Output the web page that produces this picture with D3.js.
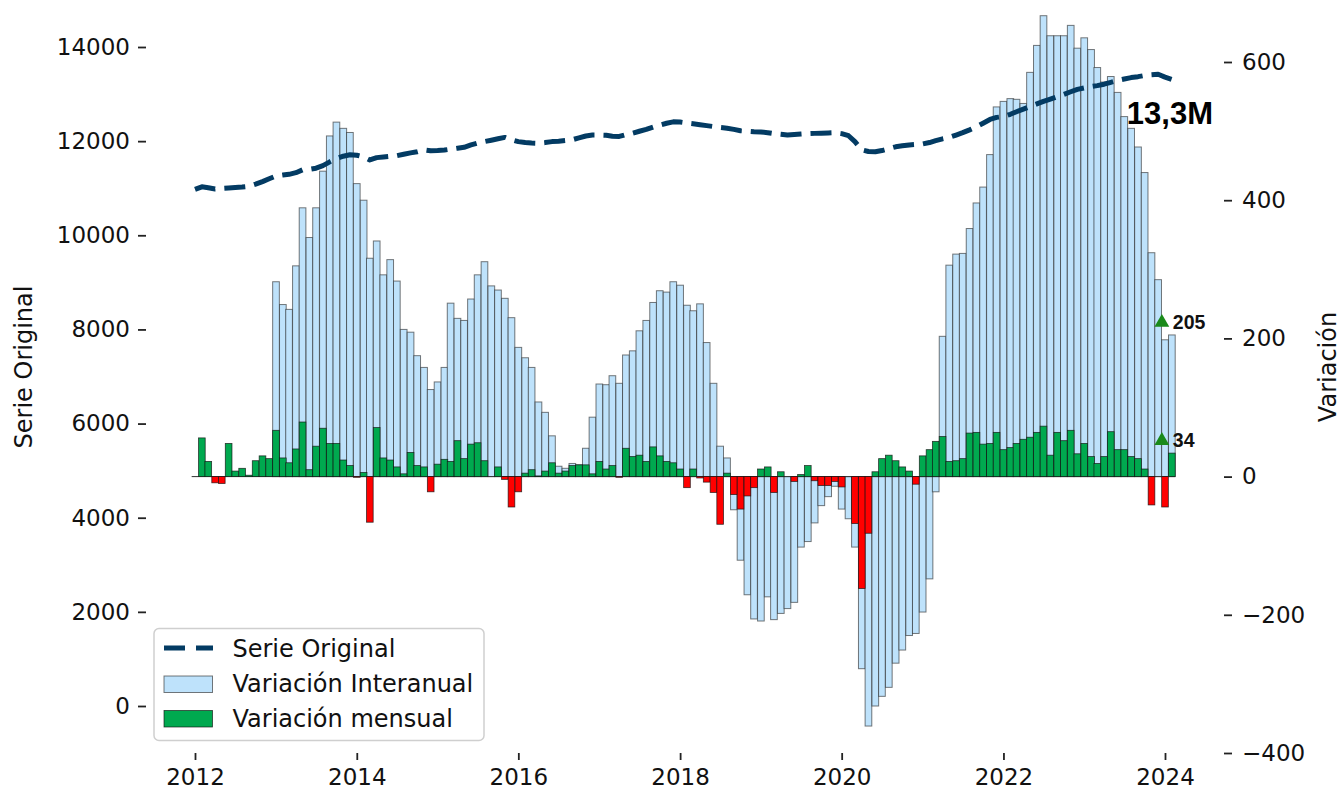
<!DOCTYPE html>
<html><head><meta charset="utf-8">
<script src="https://cdn.jsdelivr.net/npm/d3@7"></script>
<style>body{margin:0;background:#fff} svg{display:block}</style>
</head><body><svg id="c" width="1341" height="789"></svg>
<script>
// ---- data ----
const startMonth = new Date(2012, 0, 1);   // first month of the series (Jan 2012), monthly
const serieOriginal = [
  10975, 11030, 11010, 10985, 10995, 11005, 11015, 11025, 11040, 11085, 11140, 11200,
  11260, 11280, 11295, 11330, 11390, 11400, 11425, 11480, 11560, 11630, 11680, 11710,
  11700, 11665, 11600, 11650, 11665, 11680, 11690, 11720, 11750, 11775, 11815, 11795,
  11800, 11810, 11830, 11850, 11870, 11920, 11960, 11990, 12020, 12050, 12080, 12030,
  11990, 11970, 11960, 11955, 11970, 11990, 12000, 12015, 12030, 12070, 12110, 12130,
  12130, 12125, 12105, 12100, 12140, 12170, 12210, 12250, 12300, 12340, 12380, 12410,
  12405, 12385, 12370, 12350, 12330, 12310, 12290, 12275, 12250, 12220, 12210, 12200,
  12195, 12180, 12160, 12145, 12130, 12140, 12150, 12160, 12165, 12170, 12175, 12180,
  12160, 12115, 11990, 11815, 11780, 11775, 11800, 11840, 11880, 11900, 11920, 11930,
  11940, 11970, 12010, 12050, 12080, 12130, 12180, 12240, 12305, 12380, 12460, 12505,
  12520, 12570, 12625, 12680, 12735, 12790, 12845, 12895, 12945, 12995, 13050, 13100,
  13130, 13160, 13180, 13210, 13250, 13290, 13320, 13350, 13370, 13395, 13410, 13420,
  13360, 13310
];
const variacionInteranual = [
  null, null, null, null, null, null, null, null, null, null, null, null,
  282, 249, 242, 305, 389, 346, 389, 442, 493, 513, 504, 498,
  424, 400, 316, 341, 292, 314, 283, 213, 209, 175, 158, 126,
  137, 158, 251, 229, 226, 257, 292, 311, 276, 270, 258, 230,
  187, 172, 158, 108, 93, 59, 15, 12, 19, 17, 41, 86,
  134, 133, 146, 135, 176, 182, 211, 226, 252, 269, 267, 282,
  277, 248, 240, 250, 194, 135, 44, 27, -48, -121, -171, -206,
  -209, -174, -207, -198, -191, -182, -102, -94, -67, -42, -29, -14,
  -47, -61, -102, -278, -361, -332, -318, -305, -270, -251, -230, -227,
  -196, -148, -22, 203, 306, 322, 323, 359, 396, 419, 466, 535,
  543, 547, 546, 540, 585, 624, 667, 638, 638, 638, 653, 620,
  635, 618, 592, 571, 579, 556, 521, 504, 477, 440, 324, 285,
  198, 205
];
const variacionMensual = [
  null, 56, 22, -9, -10, 48, 8, 12, 2, 23, 30, 26,
  67, 27, 20, 40, 79, 10, 44, 70, 48, 48, 24, 16,
  -1, 6, -66, 71, 27, 24, 14, 4, 35, 16, 14, -22,
  18, 25, 22, 52, 26, 47, 49, 23, 0, 14, -4, -44,
  -22, 5, 10, 1, 8, 20, 5, 8, 16, 17, 17, 4,
  22, 11, 16, -1, 41, 29, 31, 22, 43, 30, 22, 20,
  11, -16, 11, -2, -8, -23, -69, 5, -26, -47, -28, -16,
  11, 14, -23, 7, 0, -7, 3, 16, -6, -13, -13, -7,
  -15, 0, -68, -162, -82, 7, 26, 31, 23, 14, 8, -11,
  30, 39, 51, 58, 22, 23, 26, 63, 64, 47, 48, 64,
  39, 42, 48, 54, 57, 64, 73, 31, 64, 52, 67, 33,
  48, 29, 19, 29, 65, 39, 39, 29, 26, 11, -41, 0,
  -44, 34
];
const xTickYears = [2012, 2014, 2016, 2018, 2020, 2022, 2024];
const leftTicks = [0, 2000, 4000, 6000, 8000, 10000, 12000, 14000];
const rightTicks = [-400, -200, 0, 200, 400, 600];
const lastLevelLabel = "13,3M";
const legendLabels = ["Serie Original", "Variación Interanual", "Variación mensual"];
const axisTitles = { left: "Serie Original", right: "Variación" };

// ---- chart ----
const FONT = "DejaVu Sans, sans-serif";
const C = { line: "#033b63", blue: "#bee2fb", green: "#00a94f", red: "#ff0000", marker: "#1a8a1a" };
const months = d3.timeMonth.range(startMonth, d3.timeMonth.offset(startMonth, serieOriginal.length));
const svg = d3.select("#c");
const axL = 146, axR = 1224, axB = 753;

const x = d3.scaleTime().domain([new Date(2012, 0, 1), new Date(2024, 0, 1)]).range([195, 1165]);
const yL = d3.scaleLinear().domain([0, 14000]).range([706, 47]);
const yR = d3.scaleLinear().domain([-400, 600]).range([753, 62]);
const barW = (x(new Date(2013, 0, 1)) - x(new Date(2012, 0, 1))) / 12 * 0.99;

// interannual bars
const gB = svg.append("g");
gB.selectAll("rect").data(months.map((m, i) => ({ m, v: variacionInteranual[i] })).filter(d => d.v !== null))
  .join("rect")
  .attr("x", d => x(d.m) - barW / 2)
  .attr("y", d => yR(Math.max(0, d.v)))
  .attr("width", barW)
  .attr("height", d => Math.abs(yR(d.v) - yR(0)))
  .attr("fill", C.blue).attr("stroke", "#222").attr("stroke-opacity", 0.6).attr("stroke-width", 1);

// zero baseline (edges of zero-height bars)
svg.append("line")
  .attr("x1", x(months[0]) - barW / 2).attr("x2", x(months[months.length - 1]) + barW / 2)
  .attr("y1", yR(0)).attr("y2", yR(0))
  .attr("stroke", "#333").attr("stroke-width", 1);

// monthly bars
const gM = svg.append("g");
gM.selectAll("rect").data(months.map((m, i) => ({ m, v: variacionMensual[i] })).filter(d => d.v !== null && d.v !== 0))
  .join("rect")
  .attr("x", d => x(d.m) - barW / 2)
  .attr("y", d => yR(Math.max(0, d.v)))
  .attr("width", barW)
  .attr("height", d => Math.abs(yR(d.v) - yR(0)))
  .attr("fill", d => d.v >= 0 ? C.green : C.red)
  .attr("stroke", "#111").attr("stroke-opacity", 0.8).attr("stroke-width", 0.8);

// original series line
const line = d3.line().x((d, i) => x(months[i])).y(d => yL(d));
svg.append("path").datum(serieOriginal)
  .attr("d", line).attr("fill", "none")
  .attr("stroke", C.line).attr("stroke-width", 5)
  .attr("stroke-dasharray", "21,9").attr("stroke-linejoin", "round");

// axes
function styleAxis(g) {
  g.select(".domain").remove();
  g.selectAll(".tick line").attr("stroke", "#222").attr("stroke-width", 1.8);
  g.selectAll(".tick text").attr("fill", "#111").style("font-family", FONT).style("font-size", "23px");
}
svg.append("g").attr("transform", `translate(${axL},0)`)
  .call(d3.axisLeft(yL).tickValues(leftTicks).tickFormat(d3.format("d")).tickSize(8).tickPadding(8))
  .call(styleAxis);
svg.append("g").attr("transform", `translate(${axR},0)`)
  .call(d3.axisRight(yR).tickValues(rightTicks).tickFormat(d3.format("d")).tickSize(8).tickPadding(10))
  .call(styleAxis);
svg.append("g").attr("transform", `translate(0,${axB})`)
  .call(d3.axisBottom(x).tickValues(xTickYears.map(yv => new Date(yv, 0, 1))).tickFormat(d3.timeFormat("%Y")).tickSize(7).tickPadding(9))
  .call(styleAxis);

// axis titles
svg.append("text").attr("transform", "translate(32,367) rotate(-90)")
  .attr("text-anchor", "middle").style("font-family", FONT).style("font-size", "24px").attr("fill", "#111")
  .text(axisTitles.left);
svg.append("text").attr("transform", "translate(1336,367) rotate(-90)")
  .attr("text-anchor", "middle").style("font-family", FONT).style("font-size", "24px").attr("fill", "#111")
  .text(axisTitles.right);

// last values annotations
const lastI = months.length - 1;
const lastX = x(months[lastI]);
const tri = d3.symbol().type(d3.symbolTriangle).size(95);
[variacionInteranual[lastI], variacionMensual[lastI]].forEach(v => {
  svg.append("path").attr("d", tri)
    .attr("transform", `translate(${lastX - 10},${yR(v) - 12.5})`).attr("fill", C.marker);
  svg.append("text").attr("x", lastX + 1).attr("y", yR(v) - 6)
    .style("font-family", "Liberation Sans, Arial, sans-serif").style("font-weight", "bold").style("font-size", "19.5px")
    .attr("fill", "#111").text(v);
});
svg.append("text").attr("x", lastX - 45).attr("y", yL(serieOriginal[lastI]) + 45)
  .style("font-family", "Liberation Sans, Arial, sans-serif").style("font-weight", "bold").style("font-size", "31px")
  .attr("fill", "#000").text(lastLevelLabel);

// legend
const lg = svg.append("g");
lg.append("rect").attr("x", 154).attr("y", 628.5).attr("width", 330).attr("height", 112).attr("rx", 5)
  .attr("fill", "#fff").attr("fill-opacity", 0.85).attr("stroke", "#cfcfcf").attr("stroke-width", 1.5);
lg.append("line").attr("x1", 164).attr("x2", 213).attr("y1", 648).attr("y2", 648)
  .attr("stroke", C.line).attr("stroke-width", 5).attr("stroke-dasharray", "21,11");
lg.append("rect").attr("x", 164).attr("y", 676).attr("width", 48.5).attr("height", 16.5)
  .attr("fill", C.blue).attr("stroke", "#222").attr("stroke-opacity", 0.6).attr("stroke-width", 1);
lg.append("rect").attr("x", 164).attr("y", 710.5).attr("width", 48.5).attr("height", 16.5)
  .attr("fill", C.green).attr("stroke", "#111").attr("stroke-opacity", 0.8).attr("stroke-width", 0.8);
legendLabels.forEach((t, i) => {
  lg.append("text").attr("x", 232.5).attr("y", 656.5 + i * 35)
    .style("font-family", FONT).style("font-size", "24px").attr("fill", "#111").text(t);
});
</script></body></html>
